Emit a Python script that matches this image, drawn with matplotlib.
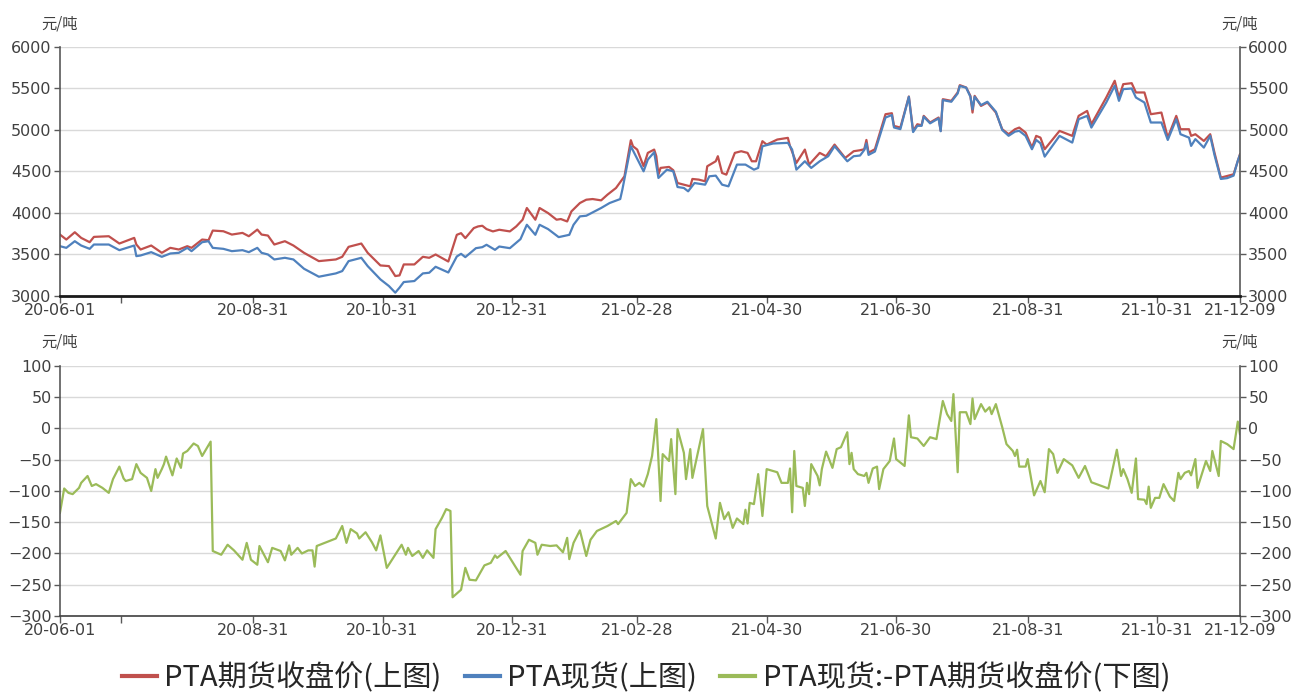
import matplotlib
matplotlib.use('Agg')
import matplotlib.pyplot as plt
import pandas as pd

plt.rcParams['font.family'] = ['Noto Sans CJK SC', 'DejaVu Sans']

# PTA期货收盘价 (上图, 红)
fut_dates = [
    '2020-06-01', '2020-06-04', '2020-06-08', '2020-06-11', '2020-06-15', '2020-06-17', '2020-06-24',
    '2020-06-29', '2020-07-06', '2020-07-07', '2020-07-09', '2020-07-14', '2020-07-19', '2020-07-23',
    '2020-07-27', '2020-07-31', '2020-08-02', '2020-08-07', '2020-08-10', '2020-08-12', '2020-08-17',
    '2020-08-21', '2020-08-26', '2020-08-29', '2020-09-02', '2020-09-04', '2020-09-07', '2020-09-10',
    '2020-09-15', '2020-09-19', '2020-09-24', '2020-10-01', '2020-10-09', '2020-10-12', '2020-10-15',
    '2020-10-21', '2020-10-24', '2020-10-30', '2020-11-03', '2020-11-06', '2020-11-08', '2020-11-10',
    '2020-11-15', '2020-11-19', '2020-11-22', '2020-11-25', '2020-11-29', '2020-12-01', '2020-12-05',
    '2020-12-07', '2020-12-09', '2020-12-13', '2020-12-15', '2020-12-17', '2020-12-19', '2020-12-22',
    '2020-12-25', '2020-12-30', '2021-01-02', '2021-01-05', '2021-01-07', '2021-01-11', '2021-01-13',
    '2021-01-17', '2021-01-21', '2021-01-23', '2021-01-26', '2021-01-28', '2021-02-01', '2021-02-04',
    '2021-02-07', '2021-02-11', '2021-02-14', '2021-02-18', '2021-02-22', '2021-02-25', '2021-02-26',
    '2021-02-28', '2021-03-03', '2021-03-05', '2021-03-08', '2021-03-09', '2021-03-10', '2021-03-11',
    '2021-03-15', '2021-03-17', '2021-03-19', '2021-03-22', '2021-03-25', '2021-03-26', '2021-03-29',
    '2021-04-01', '2021-04-02', '2021-04-06', '2021-04-07', '2021-04-09', '2021-04-11', '2021-04-15',
    '2021-04-18', '2021-04-21', '2021-04-23', '2021-04-25', '2021-04-28', '2021-04-30', '2021-05-05',
    '2021-05-10', '2021-05-11', '2021-05-14', '2021-05-18', '2021-05-20', '2021-05-25', '2021-05-28',
    '2021-06-01', '2021-06-06', '2021-06-10', '2021-06-13', '2021-06-15', '2021-06-16', '2021-06-17',
    '2021-06-20', '2021-06-25', '2021-06-28', '2021-06-29', '2021-07-02', '2021-07-06', '2021-07-08',
    '2021-07-10', '2021-07-12', '2021-07-13', '2021-07-16', '2021-07-20', '2021-07-21', '2021-07-22',
    '2021-07-26', '2021-07-29', '2021-07-30', '2021-08-02', '2021-08-04', '2021-08-05', '2021-08-06',
    '2021-08-09', '2021-08-12', '2021-08-16', '2021-08-19', '2021-08-22', '2021-08-25', '2021-08-27',
    '2021-08-30', '2021-09-02', '2021-09-04', '2021-09-06', '2021-09-08', '2021-09-15', '2021-09-21',
    '2021-09-24', '2021-09-28', '2021-09-30', '2021-10-07', '2021-10-11', '2021-10-13', '2021-10-15',
    '2021-10-19', '2021-10-21', '2021-10-25', '2021-10-28', '2021-11-02', '2021-11-05', '2021-11-09',
    '2021-11-11', '2021-11-15', '2021-11-16', '2021-11-18', '2021-11-22', '2021-11-25', '2021-11-27',
    '2021-11-30', '2021-12-03', '2021-12-06', '2021-12-08', '2021-12-09']
fut_close = [
    3740, 3680, 3768, 3700, 3648, 3712, 3720,
    3632, 3700, 3620, 3560, 3608, 3520, 3580,
    3560, 3600, 3580, 3680, 3672, 3788, 3780,
    3740, 3760, 3720, 3800, 3740, 3728, 3620,
    3660, 3608, 3520, 3420, 3440, 3472, 3592,
    3632, 3520, 3368, 3360, 3240, 3248, 3380,
    3380, 3472, 3460, 3500, 3444, 3415, 3737,
    3757, 3697, 3818, 3838, 3846, 3806, 3778,
    3798, 3778, 3838, 3919, 4060, 3919, 4060,
    3999, 3919, 3927, 3898, 4019, 4120, 4160,
    4168, 4152, 4221, 4301, 4442, 4877, 4804,
    4764, 4563, 4724, 4764, 4684, 4462, 4543,
    4555, 4515, 4361, 4341, 4321, 4410, 4402,
    4382, 4563, 4623, 4684, 4482, 4462, 4724,
    4744, 4724, 4623, 4623, 4865, 4824, 4885,
    4905, 4804, 4603, 4764, 4583, 4724, 4684,
    4824, 4663, 4744, 4756, 4768, 4880, 4727,
    4768, 5190, 5202, 5049, 5029, 5403, 4989,
    5069, 5057, 5170, 5090, 5150, 4989, 5371,
    5351, 5452, 5540, 5512, 5411, 5210, 5411,
    5290, 5331, 5210, 5009, 4949, 5009, 5029,
    4969, 4788, 4929, 4908, 4768, 4989, 4929,
    5170, 5230, 5069, 5391, 5593, 5391, 5552,
    5564, 5452, 5452, 5190, 5210, 4908, 5170,
    5009, 5009, 4929, 4949, 4868, 4949, 4727,
    4426, 4446, 4466, 4627, 4707]

# PTA现货 (上图, 蓝)
spot_dates = [
    '2020-06-01', '2020-06-04', '2020-06-08', '2020-06-11', '2020-06-15', '2020-06-17', '2020-06-24',
    '2020-06-29', '2020-07-06', '2020-07-07', '2020-07-09', '2020-07-14', '2020-07-19', '2020-07-23',
    '2020-07-27', '2020-07-31', '2020-08-02', '2020-08-07', '2020-08-10', '2020-08-12', '2020-08-17',
    '2020-08-21', '2020-08-26', '2020-08-29', '2020-09-02', '2020-09-04', '2020-09-07', '2020-09-10',
    '2020-09-15', '2020-09-19', '2020-09-24', '2020-10-01', '2020-10-09', '2020-10-12', '2020-10-15',
    '2020-10-21', '2020-10-24', '2020-10-30', '2020-11-03', '2020-11-06', '2020-11-08', '2020-11-10',
    '2020-11-15', '2020-11-19', '2020-11-22', '2020-11-25', '2020-12-01', '2020-12-05', '2020-12-07',
    '2020-12-09', '2020-12-14', '2020-12-17', '2020-12-19', '2020-12-23', '2020-12-25', '2020-12-30',
    '2021-01-04', '2021-01-07', '2021-01-11', '2021-01-13', '2021-01-17', '2021-01-22', '2021-01-27',
    '2021-01-29', '2021-02-01', '2021-02-04', '2021-02-11', '2021-02-15', '2021-02-20', '2021-02-21',
    '2021-02-25', '2021-02-27', '2021-03-03', '2021-03-05', '2021-03-08', '2021-03-10', '2021-03-14',
    '2021-03-17', '2021-03-19', '2021-03-22', '2021-03-24', '2021-03-27', '2021-04-01', '2021-04-03',
    '2021-04-06', '2021-04-09', '2021-04-12', '2021-04-16', '2021-04-20', '2021-04-24', '2021-04-26',
    '2021-04-28', '2021-05-03', '2021-05-10', '2021-05-12', '2021-05-14', '2021-05-18', '2021-05-21',
    '2021-05-25', '2021-05-29', '2021-06-01', '2021-06-07', '2021-06-10', '2021-06-13', '2021-06-15',
    '2021-06-16', '2021-06-17', '2021-06-20', '2021-06-25', '2021-06-28', '2021-06-29', '2021-07-02',
    '2021-07-06', '2021-07-08', '2021-07-10', '2021-07-12', '2021-07-13', '2021-07-16', '2021-07-20',
    '2021-07-21', '2021-07-22', '2021-07-26', '2021-07-29', '2021-07-30', '2021-08-02', '2021-08-04',
    '2021-08-05', '2021-08-06', '2021-08-09', '2021-08-12', '2021-08-16', '2021-08-19', '2021-08-22',
    '2021-08-25', '2021-08-27', '2021-08-30', '2021-09-02', '2021-09-04', '2021-09-06', '2021-09-08',
    '2021-09-15', '2021-09-21', '2021-09-24', '2021-09-28', '2021-09-30', '2021-10-07', '2021-10-11',
    '2021-10-13', '2021-10-15', '2021-10-19', '2021-10-21', '2021-10-25', '2021-10-28', '2021-11-02',
    '2021-11-05', '2021-11-09', '2021-11-11', '2021-11-15', '2021-11-16', '2021-11-18', '2021-11-22',
    '2021-11-25', '2021-11-27', '2021-11-30', '2021-12-03', '2021-12-06', '2021-12-08', '2021-12-09']
spot_price = [
    3600, 3580, 3660, 3608, 3568, 3620, 3620,
    3552, 3608, 3480, 3488, 3528, 3472, 3512,
    3520, 3580, 3540, 3648, 3660, 3580, 3568,
    3540, 3552, 3528, 3580, 3520, 3500, 3440,
    3460, 3440, 3328, 3232, 3272, 3300, 3420,
    3460, 3360, 3200, 3120, 3040, 3100, 3168,
    3180, 3272, 3280, 3352, 3283, 3476, 3508,
    3468, 3576, 3588, 3617, 3556, 3596, 3576,
    3685, 3858, 3737, 3858, 3806, 3709, 3737,
    3858, 3959, 3967, 4060, 4120, 4168, 4281,
    4804, 4704, 4502, 4643, 4732, 4422, 4522,
    4502, 4313, 4301, 4261, 4361, 4341, 4442,
    4450, 4341, 4321, 4583, 4583, 4522, 4543,
    4804, 4837, 4845, 4764, 4522, 4623, 4543,
    4623, 4684, 4804, 4623, 4684, 4692, 4760,
    4840, 4700, 4740, 5150, 5180, 5030, 5010,
    5400, 4975, 5050, 5050, 5160, 5080, 5140,
    4985, 5360, 5340, 5440, 5530, 5510, 5400,
    5250, 5400, 5300, 5340, 5220, 5000, 4930,
    4980, 4990, 4929, 4768, 4880, 4840, 4679,
    4929, 4848, 5130, 5170, 5029, 5331, 5532,
    5351, 5492, 5500, 5391, 5331, 5090, 5090,
    4880, 5130, 4949, 4908, 4808, 4890, 4788,
    4929, 4700, 4410, 4420, 4450, 4630, 4700]

# PTA现货-PTA期货收盘价 (下图, 绿)
basis_dates = [
    '2020-06-01', '2020-06-03', '2020-06-05', '2020-06-07', '2020-06-10', '2020-06-11', '2020-06-14',
    '2020-06-16', '2020-06-18', '2020-06-21', '2020-06-24', '2020-06-26', '2020-06-29', '2020-07-01',
    '2020-07-02', '2020-07-05', '2020-07-07', '2020-07-09', '2020-07-12', '2020-07-14', '2020-07-16',
    '2020-07-17', '2020-07-19', '2020-07-20', '2020-07-21', '2020-07-24', '2020-07-26', '2020-07-28',
    '2020-07-29', '2020-07-31', '2020-08-03', '2020-08-05', '2020-08-07', '2020-08-11', '2020-08-12',
    '2020-08-16', '2020-08-19', '2020-08-22', '2020-08-26', '2020-08-28', '2020-08-30', '2020-09-02',
    '2020-09-03', '2020-09-07', '2020-09-09', '2020-09-13', '2020-09-15', '2020-09-17', '2020-09-18',
    '2020-09-21', '2020-09-23', '2020-09-26', '2020-09-28', '2020-09-29', '2020-09-30', '2020-10-09',
    '2020-10-12', '2020-10-14', '2020-10-16', '2020-10-19', '2020-10-20', '2020-10-23', '2020-10-26',
    '2020-10-28', '2020-10-30', '2020-11-02', '2020-11-09', '2020-11-11', '2020-11-12', '2020-11-14',
    '2020-11-17', '2020-11-19', '2020-11-21', '2020-11-24', '2020-11-25', '2020-11-28', '2020-11-30',
    '2020-12-02', '2020-12-03', '2020-12-07', '2020-12-09', '2020-12-11', '2020-12-14', '2020-12-16',
    '2020-12-18', '2020-12-21', '2020-12-23', '2020-12-24', '2020-12-28', '2021-01-04', '2021-01-05',
    '2021-01-08', '2021-01-11', '2021-01-12', '2021-01-14', '2021-01-18', '2021-01-21', '2021-01-24',
    '2021-01-26', '2021-01-27', '2021-01-29', '2021-02-01', '2021-02-04', '2021-02-06', '2021-02-09',
    '2021-02-14', '2021-02-18', '2021-02-19', '2021-02-23', '2021-02-25', '2021-02-27', '2021-03-01',
    '2021-03-03', '2021-03-05', '2021-03-07', '2021-03-09', '2021-03-11', '2021-03-12', '2021-03-15',
    '2021-03-16', '2021-03-18', '2021-03-19', '2021-03-22', '2021-03-23', '2021-03-25', '2021-03-26',
    '2021-03-31', '2021-04-02', '2021-04-06', '2021-04-08', '2021-04-10', '2021-04-12', '2021-04-14',
    '2021-04-16', '2021-04-19', '2021-04-20', '2021-04-21', '2021-04-22', '2021-04-24', '2021-04-26',
    '2021-04-28', '2021-04-30', '2021-05-05', '2021-05-07', '2021-05-10', '2021-05-11', '2021-05-12',
    '2021-05-13', '2021-05-14', '2021-05-17', '2021-05-18', '2021-05-19', '2021-05-20', '2021-05-21',
    '2021-05-24', '2021-05-25', '2021-05-26', '2021-05-28', '2021-05-31', '2021-06-02', '2021-06-04',
    '2021-06-07', '2021-06-08', '2021-06-09', '2021-06-10', '2021-06-12', '2021-06-15', '2021-06-16',
    '2021-06-17', '2021-06-19', '2021-06-21', '2021-06-22', '2021-06-24', '2021-06-27', '2021-06-29',
    '2021-06-30', '2021-07-04', '2021-07-06', '2021-07-07', '2021-07-10', '2021-07-13', '2021-07-16',
    '2021-07-19', '2021-07-22', '2021-07-24', '2021-07-26', '2021-07-27', '2021-07-29', '2021-07-30',
    '2021-08-02', '2021-08-04', '2021-08-05', '2021-08-06', '2021-08-09', '2021-08-11', '2021-08-13',
    '2021-08-14', '2021-08-16', '2021-08-19', '2021-08-21', '2021-08-24', '2021-08-25', '2021-08-26',
    '2021-08-27', '2021-08-30', '2021-08-31', '2021-09-03', '2021-09-06', '2021-09-08', '2021-09-10',
    '2021-09-12', '2021-09-14', '2021-09-17', '2021-09-21', '2021-09-24', '2021-09-27', '2021-09-30',
    '2021-10-08', '2021-10-12', '2021-10-14', '2021-10-15', '2021-10-17', '2021-10-19', '2021-10-21',
    '2021-10-22', '2021-10-25', '2021-10-26', '2021-10-27', '2021-10-28', '2021-10-30', '2021-11-01',
    '2021-11-03', '2021-11-06', '2021-11-08', '2021-11-10', '2021-11-11', '2021-11-13', '2021-11-15',
    '2021-11-16', '2021-11-18', '2021-11-19', '2021-11-23', '2021-11-25', '2021-11-26', '2021-11-29',
    '2021-11-30', '2021-12-03', '2021-12-06', '2021-12-08', '2021-12-09']
basis = [
    -135, -96, -103, -105, -95, -87, -76,
    -92, -89, -95, -103, -81, -61, -80,
    -84, -81, -57, -71, -79, -100, -65,
    -79, -65, -57, -45, -75, -48, -63,
    -40, -36, -24, -28, -44, -21, -196,
    -202, -186, -195, -210, -183, -210, -218,
    -188, -214, -191, -196, -211, -187, -202,
    -191, -200, -195, -195, -221, -188, -176,
    -156, -183, -161, -168, -176, -166, -182,
    -195, -171, -223, -186, -202, -191, -204,
    -196, -207, -195, -207, -161, -143, -129,
    -132, -270, -258, -223, -242, -243, -231,
    -219, -215, -203, -207, -196, -234, -196,
    -178, -183, -202, -186, -188, -187, -198,
    -175, -209, -183, -163, -204, -178, -164,
    -156, -148, -153, -135, -81, -92, -87,
    -93, -73, -44, 15, -116, -41, -52,
    -17, -105, -1, -39, -81, -33, -79,
    -1, -124, -176, -119, -145, -134, -159,
    -144, -153, -130, -152, -119, -121, -73,
    -140, -65, -70, -87, -87, -64, -134,
    -36, -92, -95, -124, -87, -105, -57,
    -76, -91, -65, -37, -63, -33, -30,
    -6, -57, -39, -65, -73, -76, -71,
    -87, -64, -61, -97, -65, -52, -16,
    -49, -60, 21, -14, -16, -28, -14,
    -17, 44, 23, 12, 55, -70, 26,
    26, 7, 48, 15, 39, 27, 34,
    23, 39, 2, -25, -36, -44, -34,
    -61, -61, -49, -107, -84, -102, -33,
    -41, -71, -49, -59, -79, -60, -86,
    -96, -34, -76, -65, -81, -103, -48,
    -113, -114, -121, -93, -127, -111, -111,
    -89, -109, -116, -71, -81, -71, -68,
    -75, -49, -95, -52, -68, -36, -76,
    -20, -25, -33, 11, -9]

tick_dates = ['2020-06-01', '2020-06-30', '2020-08-31', '2020-10-31', '2020-12-31', '2021-02-28',
              '2021-04-30', '2021-06-30', '2021-08-31', '2021-10-31', '2021-12-09']
tick_labels = ['20-06-01', '', '20-08-31', '20-10-31', '20-12-31', '21-02-28',
               '21-04-30', '21-06-30', '21-08-31', '21-10-31', '21-12-09']

RED = '#C0504D'
BLUE = '#4F81BD'
GREEN = '#9BBB59'
AXC = '#595959'
TXT = '#404040'

fig = plt.figure(figsize=(12.92, 6.93), dpi=100)
ax1 = fig.add_axes([0.0464, 0.5729, 0.9133, 0.3593])
ax2 = fig.add_axes([0.0464, 0.1111, 0.9133, 0.3608])

l1, = ax1.plot(pd.to_datetime(fut_dates), fut_close, color=RED, lw=1.6)
l2, = ax1.plot(pd.to_datetime(spot_dates), spot_price, color=BLUE, lw=1.6)
l3, = ax2.plot(pd.to_datetime(basis_dates), basis, color=GREEN, lw=1.6)

ax1.set_ylim(3000, 6000)
ax1.set_yticks(range(3000, 6001, 500))
ax2.set_ylim(-300, 100)
ax2.set_yticks(range(-300, 101, 50))

for ax, bottom_lw, bottom_c in [(ax1, 2.0, '#1a1a1a'), (ax2, 1.2, '#404040')]:
    ax.set_xlim(pd.Timestamp('2020-06-01'), pd.Timestamp('2021-12-09'))
    ax.set_xticks(pd.to_datetime(tick_dates))
    ax.set_xticklabels(tick_labels)
    ax.grid(axis='y', color='#d9d9d9', lw=1)
    ax.set_axisbelow(True)
    ax.spines['top'].set_visible(False)
    for s in ('left', 'right'):
        ax.spines[s].set_color(AXC)
        ax.spines[s].set_linewidth(1.2)
    ax.spines['bottom'].set_color(bottom_c)
    ax.spines['bottom'].set_linewidth(bottom_lw)
    ax.tick_params(axis='y', left=True, right=True, labelleft=True, labelright=True,
                   length=4, width=1, color=AXC, labelsize=11.5, labelcolor=TXT, pad=2)
    ax.tick_params(axis='x', length=5, width=1, color=AXC, labelsize=11.5, labelcolor=TXT, pad=0)
    for lab in ax.get_xticklabels() + ax.get_yticklabels():
        lab.set_fontfamily('DejaVu Sans')
    for lab in ax.yaxis.get_ticklabels(which='both'):
        lab.set_fontfamily('DejaVu Sans')
    ax.text(0.0, 1.06, '元/吨', transform=ax.transAxes, ha='center', va='bottom',
            fontsize=11, color=TXT)
    ax.text(1.0, 1.06, '元/吨', transform=ax.transAxes, ha='center', va='bottom',
            fontsize=11, color=TXT)

fig.legend([l1, l2, l3], ['PTA期货收盘价(上图)', 'PTA现货(上图)', 'PTA现货:-PTA期货收盘价(下图)'],
           loc='center', bbox_to_anchor=(0.5, 0.021), ncol=3, frameon=False,
           fontsize=21, handlelength=1.2, handletextpad=0.25, columnspacing=0.8,
           labelcolor='#262626')
for h in fig.legends[0].legend_handles:
    h.set_linewidth(3)

fig.savefig('out.png', dpi=100)
